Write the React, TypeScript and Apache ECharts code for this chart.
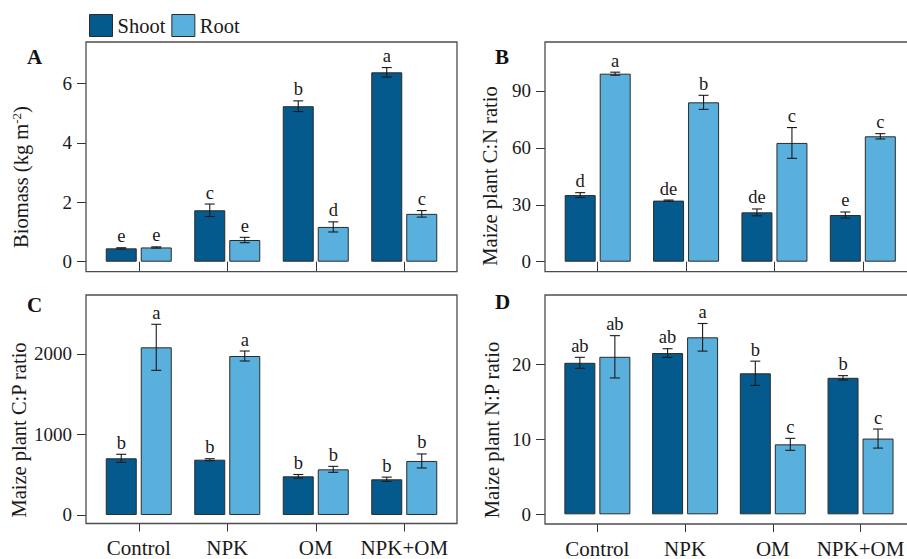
import React, { useEffect, useRef } from "react";
import * as echarts from "echarts";

// ---------------- data ----------------
const CATEGORIES = ["Control", "NPK", "OM", "NPK+OM"];
const SERIES_NAMES = ["Shoot", "Root"];

// A: Biomass (kg m-2)
const BIOMASS_SHOOT = [0.45, 1.73, 5.23, 6.37];
const BIOMASS_SHOOT_ERR = [0.02, 0.21, 0.18, 0.16];
const BIOMASS_SHOOT_LETTERS = ["e", "c", "b", "a"];
const BIOMASS_ROOT = [0.48, 0.73, 1.17, 1.61];
const BIOMASS_ROOT_ERR = [0.02, 0.09, 0.17, 0.11];
const BIOMASS_ROOT_LETTERS = ["e", "e", "d", "c"];
const BIOMASS_TICKS = [0, 2, 4, 6];

// B: C:N ratio
const CN_SHOOT = [35.1, 32.2, 26.0, 24.6];
const CN_SHOOT_ERR = [1.3, 0.3, 1.8, 1.6];
const CN_SHOOT_LETTERS = ["d", "de", "de", "e"];
const CN_ROOT = [99.1, 84.0, 62.6, 66.1];
const CN_ROOT_ERR = [0.8, 3.7, 8.1, 1.4];
const CN_ROOT_LETTERS = ["a", "b", "c", "c"];
const CN_TICKS = [0, 30, 60, 90];

// C: C:P ratio
const CP_SHOOT = [704, 687, 480, 443];
const CP_SHOOT_ERR = [50, 12, 23, 27];
const CP_SHOOT_LETTERS = ["b", "b", "b", "b"];
const CP_ROOT = [2083, 1975, 567, 671];
const CP_ROOT_ERR = [286, 62, 37, 87];
const CP_ROOT_LETTERS = ["a", "a", "b", "b"];
const CP_TICKS = [0, 1000, 2000];

// D: N:P ratio
const NP_SHOOT = [20.2, 21.5, 18.8, 18.2];
const NP_SHOOT_ERR = [0.73, 0.58, 1.62, 0.29];
const NP_SHOOT_LETTERS = ["ab", "ab", "b", "b"];
const NP_ROOT = [21.0, 23.6, 9.33, 10.1];
const NP_ROOT_ERR = [2.82, 1.84, 0.8, 1.27];
const NP_ROOT_LETTERS = ["ab", "a", "c", "c"];
const NP_TICKS = [0, 10, 20];

// ---------------- style ----------------
const FONT = "'Liberation Serif', 'Times New Roman', serif";
const SHOOT_COLOR = "#045a8d";
const ROOT_COLOR = "#5ab0dd";
const BAR_BORDER = "#2b2b2b";
const TEXT_COLOR = "#1a1a1a";
const BOX_COLOR = "#4d4d4d";
const BAR_W = 31;
const BAR_GAP_PX = 4;
const CAP_HALF = 5;
const CAT_SPAN = 354;

interface Panel {
  label: string;
  title: string;
  rich?: boolean;
  shoot: number[];
  shootErr: number[];
  shootLetters: string[];
  root: number[];
  rootErr: number[];
  rootLetters: string[];
  ticks: number[];
  min: number;
  max: number;
  box: { x: number; y: number; w: number; h: number };
  gridLeft: number;
  showCat: boolean;
  titlePos: [number, number];
  labelPos: [number, number];
}

const PANELS: Panel[] = [
  {
    label: "A",
    title: "{a|Biomass (kg m}{s|-2}{a|)}",
    rich: true,
    shoot: BIOMASS_SHOOT,
    shootErr: BIOMASS_SHOOT_ERR,
    shootLetters: BIOMASS_SHOOT_LETTERS,
    root: BIOMASS_ROOT,
    rootErr: BIOMASS_ROOT_ERR,
    rootLetters: BIOMASS_ROOT_LETTERS,
    ticks: BIOMASS_TICKS,
    min: -0.336,
    max: 7.39,
    box: { x: 86, y: 42, w: 371, h: 229.7 },
    gridLeft: 94.5,
    showCat: false,
    titlePos: [21, 177],
    labelPos: [27, 57],
  },
  {
    label: "B",
    title: "Maize plant C:N ratio",
    shoot: CN_SHOOT,
    shootErr: CN_SHOOT_ERR,
    shootLetters: CN_SHOOT_LETTERS,
    root: CN_ROOT,
    rootErr: CN_ROOT_ERR,
    rootLetters: CN_ROOT_LETTERS,
    ticks: CN_TICKS,
    min: -5.27,
    max: 115.8,
    box: { x: 545, y: 42, w: 371, h: 229.7 },
    gridLeft: 553.5,
    showCat: false,
    titlePos: [490, 176],
    labelPos: [495, 57],
  },
  {
    label: "C",
    title: "Maize plant C:P ratio",
    shoot: CP_SHOOT,
    shootErr: CP_SHOOT_ERR,
    shootLetters: CP_SHOOT_LETTERS,
    root: CP_ROOT,
    rootErr: CP_ROOT_ERR,
    rootLetters: CP_ROOT_LETTERS,
    ticks: CP_TICKS,
    min: -106,
    max: 2733,
    box: { x: 86, y: 295, w: 371, h: 228.5 },
    gridLeft: 94.5,
    showCat: true,
    titlePos: [19, 430],
    labelPos: [27, 305],
  },
  {
    label: "D",
    title: "Maize plant N:P ratio",
    shoot: NP_SHOOT,
    shootErr: NP_SHOOT_ERR,
    shootLetters: NP_SHOOT_LETTERS,
    root: NP_ROOT,
    rootErr: NP_ROOT_ERR,
    rootLetters: NP_ROOT_LETTERS,
    ticks: NP_TICKS,
    min: -1.29,
    max: 29.24,
    box: { x: 545, y: 295, w: 371, h: 229 },
    gridLeft: 553.5,
    showCat: true,
    titlePos: [492, 430],
    labelPos: [495, 302],
  },
];

function makeErrRender(sign: number, letters: string[]) {
  return (params: any, api: any) => {
    const cat = api.value(0);
    const v = api.value(1);
    const e = api.value(2);
    const x = api.coord([cat, v])[0] + (sign * (BAR_W + BAR_GAP_PX)) / 2;
    const top = api.coord([cat, v + e])[1];
    const bot = api.coord([cat, v - e])[1];
    const ls = { stroke: "#1a1a1a", lineWidth: 1.1 };
    return {
      type: "group",
      children: [
        { type: "line", shape: { x1: x, y1: top, x2: x, y2: bot }, style: ls },
        { type: "line", shape: { x1: x - CAP_HALF, y1: top, x2: x + CAP_HALF, y2: top }, style: ls },
        { type: "line", shape: { x1: x - CAP_HALF, y1: bot, x2: x + CAP_HALF, y2: bot }, style: ls },
        {
          type: "text",
          style: {
            text: letters[params.dataIndex],
            x,
            y: top - 2,
            align: "center",
            verticalAlign: "bottom",
            fontSize: 18.5,
            fontFamily: FONT,
            fill: TEXT_COLOR,
          },
        },
      ],
    };
  };
}

function buildOption() {
  const grid: any[] = [];
  const xAxis: any[] = [];
  const yAxis: any[] = [];
  const series: any[] = [];
  const graphic: any[] = [];

  PANELS.forEach((p, i) => {
    grid.push({ left: p.gridLeft, top: p.box.y, width: CAT_SPAN, height: p.box.h });
    xAxis.push({
      gridIndex: i,
      type: "category",
      data: CATEGORIES,
      axisLine: { show: false, onZero: false },
      axisTick: {
        show: true,
        alignWithLabel: true,
        interval: 0,
        inside: !p.showCat,
        length: p.showCat ? 8 : 10,
        lineStyle: { color: "#333", width: 1 },
      },
      axisLabel: {
        show: p.showCat,
        interval: 0,
        hideOverlap: false,
        margin: 14,
        fontSize: 21,
        fontFamily: FONT,
        color: TEXT_COLOR,
      },
      splitLine: { show: false },
    });
    yAxis.push({
      gridIndex: i,
      type: "value",
      min: p.min,
      max: p.max,
      offset: p.gridLeft - p.box.x,
      axisLine: { show: false },
      splitLine: { show: false },
      axisTick: {
        show: true,
        length: 9,
        customValues: p.ticks,
        lineStyle: { color: "#333", width: 1 },
      },
      axisLabel: {
        customValues: p.ticks,
        formatter: (v: number) => String(v),
        margin: 14,
        fontSize: 19,
        fontFamily: FONT,
        color: TEXT_COLOR,
      },
    });
    const gap = `${(BAR_GAP_PX / BAR_W) * 100}%`;
    series.push({
      type: "bar",
      name: SERIES_NAMES[0],
      xAxisIndex: i,
      yAxisIndex: i,
      data: p.shoot,
      barWidth: BAR_W,
      barGap: gap,
      itemStyle: { color: SHOOT_COLOR, borderColor: BAR_BORDER, borderWidth: 1 },
      silent: true,
    });
    series.push({
      type: "bar",
      name: SERIES_NAMES[1],
      xAxisIndex: i,
      yAxisIndex: i,
      data: p.root,
      barWidth: BAR_W,
      barGap: gap,
      itemStyle: { color: ROOT_COLOR, borderColor: BAR_BORDER, borderWidth: 1 },
      silent: true,
    });
    series.push({
      type: "custom",
      name: "shoot-err-" + p.label,
      xAxisIndex: i,
      yAxisIndex: i,
      data: p.shoot.map((v, j) => [j, v, p.shootErr[j]]),
      renderItem: makeErrRender(-1, p.shootLetters),
      z: 10,
      silent: true,
    });
    series.push({
      type: "custom",
      name: "root-err-" + p.label,
      xAxisIndex: i,
      yAxisIndex: i,
      data: p.root.map((v, j) => [j, v, p.rootErr[j]]),
      renderItem: makeErrRender(1, p.rootLetters),
      z: 10,
      silent: true,
    });

    graphic.push({
      type: "rect",
      silent: true,
      shape: { x: p.box.x, y: p.box.y, width: p.box.w, height: p.box.h },
      style: { fill: "none", stroke: BOX_COLOR, lineWidth: 1.3 },
      z: 5,
    });
    graphic.push({
      type: "text",
      silent: true,
      x: p.labelPos[0],
      y: p.labelPos[1],
      style: {
        text: p.label,
        align: "left",
        verticalAlign: "middle",
        fontSize: 21,
        fontWeight: "bold",
        fontFamily: FONT,
        fill: "#111",
      },
    });
    graphic.push({
      type: "text",
      silent: true,
      x: p.titlePos[0],
      y: p.titlePos[1],
      rotation: Math.PI / 2,
      style: p.rich
        ? {
            text: p.title,
            align: "center",
            verticalAlign: "middle",
            fill: TEXT_COLOR,
            rich: {
              a: { fontSize: 20.5, fontFamily: FONT, fill: TEXT_COLOR, lineHeight: 22 },
              s: { fontSize: 13, fontFamily: FONT, fill: TEXT_COLOR, verticalAlign: "top", lineHeight: 22 },
            },
          }
        : {
            text: p.title,
            align: "center",
            verticalAlign: "middle",
            fontSize: 20.5,
            fontFamily: FONT,
            fill: TEXT_COLOR,
          },
    });
  });

  return {
    animation: false,
    backgroundColor: "#ffffff",
    legend: {
      data: SERIES_NAMES,
      left: 89,
      top: 14,
      padding: 0,
      itemWidth: 23,
      itemHeight: 22,
      itemGap: 6,
      icon: "rect",
      selectedMode: false,
      itemStyle: { borderColor: BAR_BORDER, borderWidth: 1 },
      textStyle: { fontSize: 20.5, fontFamily: FONT, color: TEXT_COLOR, padding: [0, 0, 0, 0] },
    },
    grid,
    xAxis,
    yAxis,
    series,
    graphic,
  };
}

export default function App() {
  const ref = useRef<HTMLDivElement>(null);
  useEffect(() => {
    if (!ref.current) return;
    const chart = echarts.init(ref.current, undefined, { renderer: "svg" });
    chart.setOption(buildOption() as any);
    return () => chart.dispose();
  }, []);
  return (
    <div
      ref={ref}
      style={{ position: "absolute", left: 0, top: 0, width: 907, height: 559, background: "#fff" }}
    />
  );
}
